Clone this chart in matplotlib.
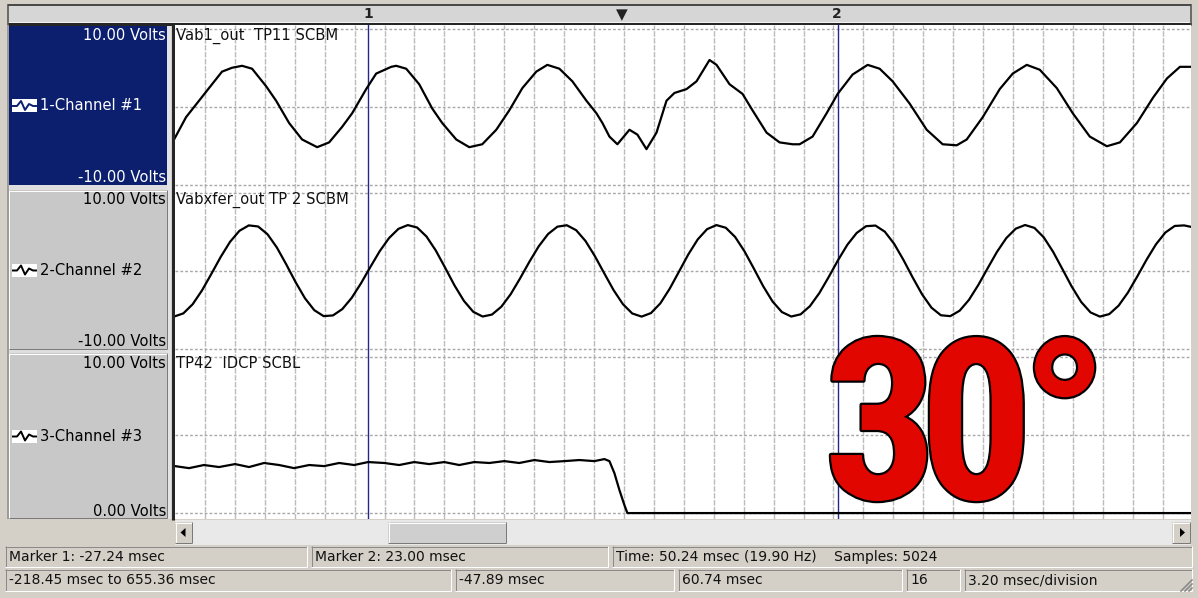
import os
import numpy as np
import matplotlib
matplotlib.use("Agg")
import matplotlib.pyplot as plt
from matplotlib.patches import Rectangle, Polygon
from matplotlib.lines import Line2D
import matplotlib.patheffects as pe
from matplotlib import font_manager
from matplotlib.font_manager import FontProperties
from matplotlib.textpath import TextPath

# ---------------- data ----------------
view_start_ms = -47.89
view_end_ms = 60.74
ms_per_division = 3.20
marker_1_ms = -27.24
marker_2_ms = 23.00
trigger_ms = 0.0

# Channel 1 (Vab1_out) time [ms] / volts
ch1_t = [-47.99, -46.71, -45.32, -43.93, -42.86, -41.79, -40.72, -39.65, -38.15, -37.08,
         -35.69, -34.30, -32.69, -31.41, -30.02, -28.95, -27.45, -26.38, -24.77, -24.24,
         -23.17, -21.78, -20.39, -19.32, -17.82, -16.43, -15.04, -13.54, -12.15, -10.75,
         -9.26, -8.08, -6.79, -5.40, -3.90, -2.83, -2.19, -1.44, -0.59, 0.70,
         1.55, 2.52, 3.59, 4.66, 5.51, 6.80, 7.87, 9.26, 10.01, 11.40,
         12.79, 13.86, 15.36, 16.75, 18.14, 18.89, 20.28, 21.78, 22.96, 24.56,
         26.17, 27.45, 28.84, 30.66, 32.48, 34.19, 35.69, 36.76, 38.47, 40.29,
         41.68, 43.18, 44.57, 46.39, 48.10, 49.92, 51.74, 53.14, 54.96, 56.67,
         58.17, 59.56, 60.84]
ch1_v = [-4.14, -1.30, 0.80, 2.90, 4.51, 5.00, 5.25, 4.88, 2.65, 0.80,
         -2.04, -4.14, -5.12, -4.51, -2.53, -0.80, 2.28, 4.26, 5.12, 5.25,
         4.88, 2.90, -0.19, -2.04, -4.14, -5.12, -4.75, -2.90, -0.43, 2.41,
         4.51, 5.37, 4.88, 3.27, 0.80, -0.80, -2.04, -3.77, -4.75, -2.90,
         -3.52, -5.37, -3.27, 0.80, 1.79, 2.28, 3.27, 5.99, 5.37, 2.90,
         1.67, -0.43, -3.27, -4.51, -4.75, -4.75, -3.77, -0.80, 1.67, 4.14,
         5.37, 4.88, 3.27, 0.43, -2.90, -4.75, -4.88, -4.14, -1.30, 2.28,
         4.26, 5.37, 4.75, 2.41, -0.80, -3.77, -5.00, -4.51, -2.04, 1.17,
         3.64, 5.12, 5.12]

# Channel 2 (Vabxfer_out), sampled every 1 ms
ch2_t = list(range(-48, 62))
ch2_v = [-5.80, -5.39, -4.22, -2.45, -0.34, 1.83, 3.76, 5.16, 5.85,
         5.71, 4.72, 3.03, 0.88, -1.39, -3.45, -4.98, -5.74,
         -5.65, -4.84, -3.41, -1.54, 0.54, 2.56, 4.24, 5.41, 5.89,
         5.58, 4.43, 2.63, 0.43, -1.83, -3.79, -5.19, -5.79,
         -5.54, -4.54, -2.94, -0.93, 1.20, 3.18, 4.75, 5.69,
         5.87, 5.24, 3.86, 1.93, -0.26, -2.41, -4.21, -5.40,
         -5.80, -5.35, -4.11, -2.24, -0.05, 2.16, 4.06, 5.37, 5.89,
         5.55, 4.37, 2.54, 0.34, -1.92, -3.87, -5.22, -5.79,
         -5.51, -4.46, -2.80, -0.75, 1.41, 3.38, 4.89, 5.75,
         5.83, 5.05, 3.50, 1.43, -0.84, -2.98, -4.67, -5.63,
         -5.74, -5.05, -3.66, -1.76, 0.38, 2.48, 4.24, 5.43, 5.90,
         5.53, 4.32, 2.47, 0.25, -1.99, -3.93, -5.27, -5.80,
         -5.48, -4.40, -2.72, -0.66, 1.49, 3.44, 4.94, 5.78, 5.85, 5.60]

# Channel 3 (TP42 IDCP)
ch3_t = [-47.89, -46.39, -44.79, -43.18, -41.47, -39.97, -38.37, -36.76, -35.16, -33.55,
         -31.95, -30.34, -28.73, -27.24, -25.52, -23.92, -22.31, -20.71, -19.10, -17.50,
         -15.89, -14.29, -12.68, -11.08, -9.47, -7.87, -6.26, -4.65, -3.05, -1.98,
         -1.44, -0.91, -0.37, 0.16, 0.48, 60.84]
ch3_v = [3.01, 2.88, 3.08, 2.95, 3.14, 2.95, 3.21, 3.08, 2.88, 3.08,
         3.01, 3.21, 3.08, 3.27, 3.21, 3.08, 3.27, 3.14, 3.27, 3.08,
         3.27, 3.21, 3.33, 3.21, 3.40, 3.27, 3.33, 3.40, 3.33, 3.46,
         3.33, 2.56, 1.47, 0.51, 0.00, 0.00]

channel_names = ["1-Channel #1", "2-Channel #2", "3-Channel #3"]
channel_titles = ["Vab1_out  TP11 SCBM", "Vabxfer_out TP 2 SCBM", "TP42  IDCP SCBL"]
top_labels = ["10.00 Volts", "10.00 Volts", "10.00 Volts"]
bottom_labels = ["-10.00 Volts", "-10.00 Volts", "0.00 Volts"]
status_row1 = ["Marker 1: -27.24 msec", "Marker 2: 23.00 msec",
               "Time: 50.24 msec (19.90 Hz)    Samples: 5024"]
status_row2 = ["-218.45 msec to 655.36 msec", "-47.89 msec", "60.74 msec", "16",
               "3.20 msec/division"]
ruler_labels = ["1", "\u25BC", "2"]
big_label = ["3", "0", "\u00B0"]

# ---------------- styling / layout ----------------
W, H = 1198, 598
WIN = "#d4d0c8"
NAVY = "#0b1f6e"
BOXGRAY = "#c8c8c8"
MARK = "#26268c"
PX = 0.72  # one pixel in points

fig = plt.figure(figsize=(W / 100, H / 100), dpi=100)
fig.patch.set_facecolor(WIN)


def px_axes(x0, y0, x1, y1, z):
    ax = fig.add_axes([x0 / W, 1 - y1 / H, (x1 - x0) / W, (y1 - y0) / H])
    ax.set_zorder(z)
    return ax


bg = px_axes(0, 0, W, H, 0)
bg.set_xlim(0, W)
bg.set_ylim(H, 0)
bg.axis("off")


def rect(ax, x0, y0, x1, y1, fc, z=1):
    ax.add_patch(Rectangle((x0, y0), x1 - x0, y1 - y0, facecolor=fc,
                           edgecolor="none", linewidth=0, zorder=z))


def hl(ax, x0, x1, y, c, w=1, z=2):
    ax.add_line(Line2D([x0, x1], [y, y], color=c, linewidth=w * PX, zorder=z,
                       solid_capstyle="butt"))


def vl(ax, x, y0, y1, c, w=1, z=2):
    ax.add_line(Line2D([x, x], [y0, y1], color=c, linewidth=w * PX, zorder=z,
                       solid_capstyle="butt"))


def bevel(ax, x0, y0, x1, y1, fc, sunken=False):
    rect(ax, x0, y0, x1, y1, fc)
    light, dark = ("#ffffff", "#7a7a7a") if not sunken else ("#8a8a8a", "#ffffff")
    hl(ax, x0, x1, y0 + 0.5, light)
    vl(ax, x0 + 0.5, y0, y1, light)
    hl(ax, x0, x1, y1 - 0.5, dark)
    vl(ax, x1 - 0.5, y0, y1, dark)


# ruler bar
rect(bg, 8, 5, 1191, 23, "#d6d6d6")
hl(bg, 8, 1191, 5, "#4a4a4a", 2)
hl(bg, 8, 1191, 21.5, "#f2f2f2", 1)
hl(bg, 8, 1191, 23.8, "#262626", 3)
vl(bg, 8, 4, 25, "#4a4a4a", 1.5)
vl(bg, 1191, 4, 25, "#4a4a4a", 1.5)
for lab, xp in zip(ruler_labels, [368, 622, 837]):
    bg.text(xp, 14.5, lab, ha="center", va="center", fontsize=10 if lab != "\u25BC" else 11,
            fontweight="bold", color="#222222", zorder=5)

# left label column
label_boxes = [(25, 185), (190, 349), (353, 518)]
rect(bg, 8, 185, 167, 190, "#dedede")
rect(bg, 8, 349, 167, 353, "#dedede")
vl(bg, 8, 25, 519, "#8c8c8c", 1.5)
for i, (yt, yb) in enumerate(label_boxes):
    if i == 0:
        rect(bg, 8.5, yt, 167, yb, NAVY)
        tc = "white"
    else:
        bevel(bg, 8.5, yt, 167, yb, BOXGRAY)
        tc = "black"
    bg.text(166, yt + 10, top_labels[i], ha="right", va="center",
            fontsize=10.6, color=tc, zorder=5)
    bg.text(166, yb - 7, bottom_labels[i], ha="right", va="center",
            fontsize=10.6, color=tc, zorder=5)
    ym = (yt + yb) / 2 + 1
    bg.text(40, ym, channel_names[i], ha="left", va="center", fontsize=10.6,
            color=tc, zorder=5)
    rect(bg, 12, ym - 7, 37, ym + 6, "white", z=3)
    wave_c = NAVY if i == 0 else "black"
    bg.add_line(Line2D([13, 17, 21, 25, 29, 33, 36],
                       [ym, ym, ym - 5, ym + 4, ym - 2, ym, ym],
                       color=wave_c, linewidth=1.4, zorder=4))

# separator between label column and plot area
rect(bg, 167, 25, 172, 519, "#e4e4e4")
vl(bg, 173.3, 23, 520, "#262626", 3.2)
rect(bg, 1191, 25, W, 520, WIN)

# channel plot axes
grid_t = [view_start_ms + k * ms_per_division for k in range(1, 34)]
ylims = [(-10.45, 10.45), (-10.45, 10.5), (-0.38, 10.26)]
yticks = [[-10, 0, 10], [-10, 0, 10], [0, 5, 10]]
series = [(ch1_t, ch1_v), (ch2_t, ch2_v), (ch3_t, ch3_v)]
plot_panels = [(25, 189), (189, 353), (353, 519)]
for i, (yt, yb) in enumerate(plot_panels):
    ax = px_axes(175, yt, 1191, yb, 2)
    ax.set_facecolor("white")
    ax.set_xlim(view_start_ms, view_end_ms)
    ax.set_ylim(*ylims[i])
    ax.set_xticks(grid_t)
    ax.set_yticks(yticks[i])
    ax.tick_params(length=0, labelbottom=False, labelleft=False)
    for s in ax.spines.values():
        s.set_visible(False)
    ax.grid(axis="x", color="#bcbcbc", linewidth=1.0, linestyle=(0, (4, 1)))
    ax.grid(axis="y", color="#a8a8a8", linewidth=1.0, linestyle=(0, (2, 1.5)))
    ax.set_axisbelow(True)
    for m in (marker_1_ms, marker_2_ms):
        ax.axvline(m, color=MARK, linewidth=1.0, zorder=2)
    t, v = series[i]
    ax.plot(t, v, color="black", linewidth=1.6, solid_joinstyle="round", zorder=3)

# scroll bar
rect(bg, 175, 520, 1191, 545, "#e9e9e9")
rect(bg, 0, 519, 175, 545, WIN)
bevel(bg, 175, 522, 192, 543, WIN)
bg.add_patch(Polygon([[180.5, 532.5], [185.5, 528], [185.5, 537]], closed=True,
                     facecolor="black", edgecolor="none", zorder=4))
bevel(bg, 388, 522, 506, 543, "#cfcfcf")
bevel(bg, 1172, 522, 1190, 543, WIN)
bg.add_patch(Polygon([[1185, 532.5], [1180, 528], [1180, 537]], closed=True,
                     facecolor="black", edgecolor="none", zorder=4))

# status bar
row1 = [(5, 307), (311, 608), (612, 1192)]
row2 = [(5, 451), (455, 674), (678, 902), (906, 960), (964, 1192)]
for (x0, x1), txt in zip(row1, status_row1):
    bevel(bg, x0, 546, x1, 567, WIN, sunken=True)
    bg.text(x0 + 4, 557, txt, ha="left", va="center", fontsize=10, color="#111111", zorder=5)
for (x0, x1), txt in zip(row2, status_row2):
    bevel(bg, x0, 569, x1, 591, WIN, sunken=True)
    bg.text(x0 + 4, 580.5, txt, ha="left", va="center", fontsize=10, color="#111111", zorder=5)
for k in range(3):
    d = 4 * k
    bg.add_line(Line2D([1181 + d, 1192], [591, 580 + d], color="#8a8a8a",
                       linewidth=1.2, zorder=6))

# overlay: channel titles and big annotation
ov = px_axes(0, 0, W, H, 10)
ov.set_xlim(0, W)
ov.set_ylim(H, 0)
ov.axis("off")
for (yt, yb), title in zip(plot_panels, channel_titles):
    ov.text(176, yt + 11, title, ha="left", va="center", fontsize=10.6, color="#111111")

# bold narrow face for the big "30°"
cands = ["LiberationSansNarrow-Bold.", "NotoSans-ExtraCondensedBold.",
         "NotoSans-CondensedBold.", "NotoSans-SemiCondensedBold.",
         "RobotoCondensed-Bold.", "DejaVuSansCondensed-Bold.", "LiberationSans-Bold."]
files = [f.fname for f in font_manager.fontManager.ttflist]
chosen = None
for c in cands:
    for fn in files:
        if os.path.basename(fn).startswith(c):
            chosen = fn
            break
    if chosen:
        break
fp = FontProperties(fname=chosen) if chosen else FontProperties(family="DejaVu Sans", weight="bold")


def ink(s):
    return TextPath((0, 0), s, size=100, prop=fp).get_extents()


e3 = ink(big_label[0])
fs = 164.0 * 72.0 / e3.height          # digit ink height ~164 px
k = fs / 72.0                          # px per TextPath unit
effects = [pe.withStroke(linewidth=3.2, foreground="black")]
base = 503 + e3.y0 * k
# glyph ink left edges in the reference: "3" 831, "0" 930, "°" 1035
targets = [831, 930, 1035]


def mstr(a, b):
    return r"$\mathregular{%s\hspace{%.4f}%s\hspace{%.4f}%s}$" % (
        big_label[0], a, big_label[1], b, big_label[2])


try:
    m3 = ink(r"$\mathregular{%s}$" % big_label[0])
    w0 = ink(r"$\mathregular{%s}$" % big_label[1]).width
    wd = ink(r"$\mathregular{%s}$" % big_label[2]).width

    def left0(a):
        return ink(r"$\mathregular{%s\hspace{%.4f}%s}$" % (big_label[0], a, big_label[1])).x1 - w0

    def leftd(a, b):
        return ink(mstr(a, b)).x1 - wd

    E = (left0(0.0) - left0(-0.1)) / 0.1
    a = ((targets[1] - targets[0]) / k + m3.x0 - left0(0.0)) / E
    b = ((targets[2] - targets[0]) / k + m3.x0 - leftd(a, 0.0)) / E
    label_s = mstr(a, b)
    x_left = targets[0] - m3.x0 * k
except Exception:
    label_s = "".join(big_label)
    x_left = targets[0] - e3.x0 * k

ov.text(x_left, base, label_s, ha="left", va="baseline", color="#e10600",
        fontproperties=fp, fontsize=fs, path_effects=effects)

fig.savefig("out.png", dpi=100, facecolor=fig.get_facecolor())
